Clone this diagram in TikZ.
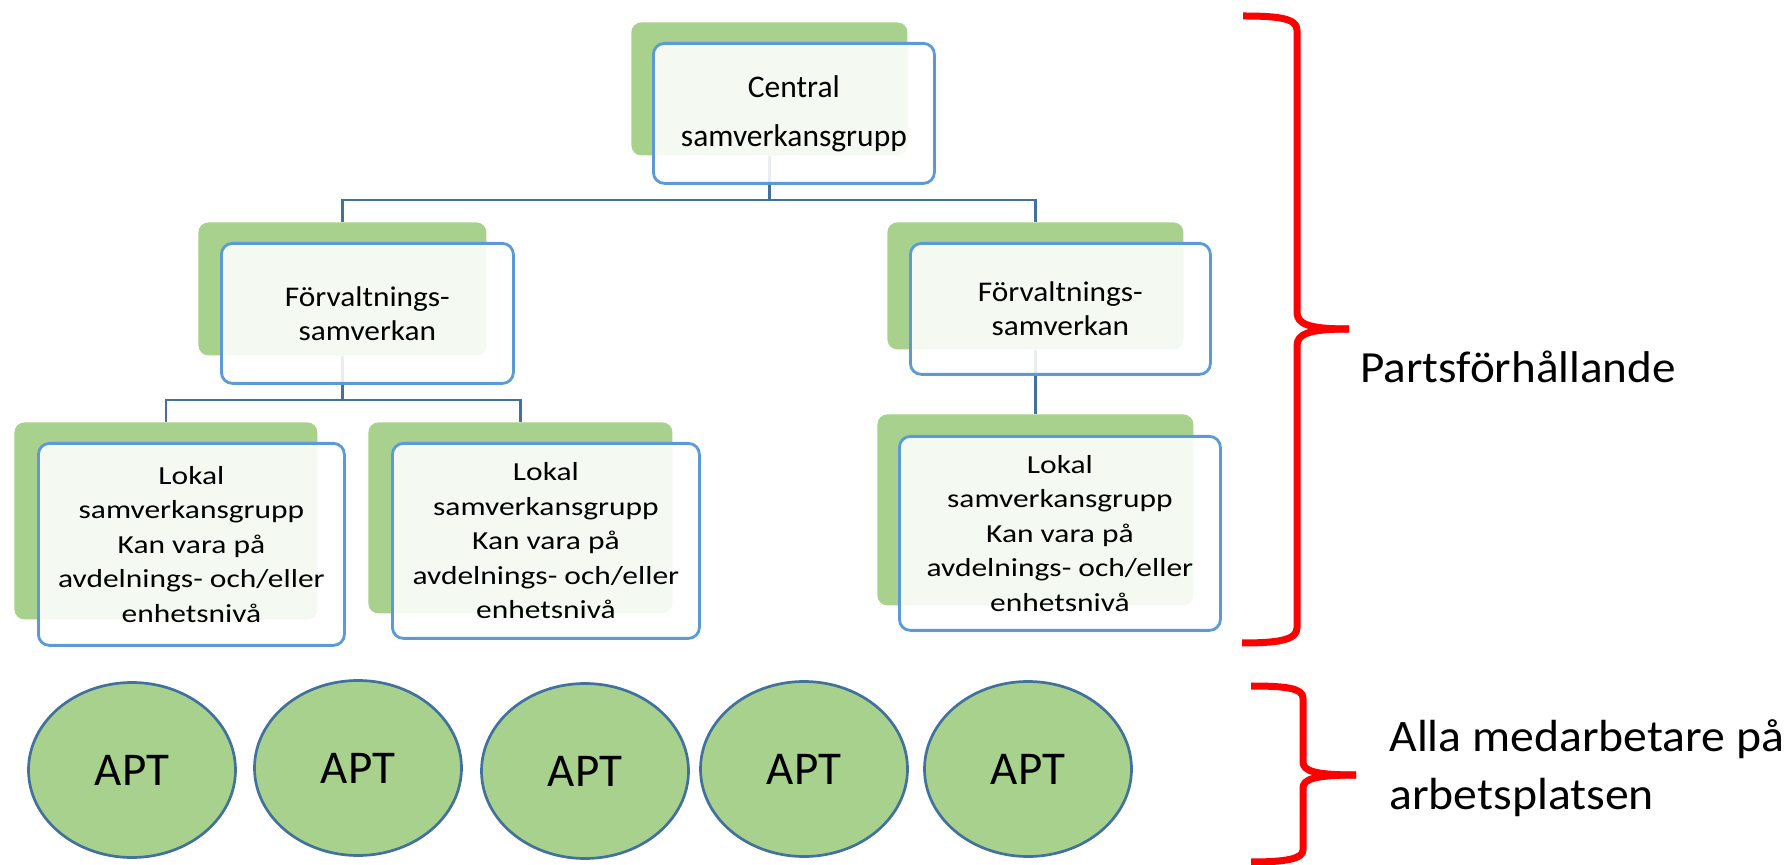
\documentclass[tikz,border=0pt]{standalone}
\usepackage{fontspec}
\setmainfont{Carlito}
\newfontfamily\lokalfont[FakeStretch=1.21]{Carlito}
\newfontfamily\forvfont[FakeStretch=1.1]{Carlito}
\newfontfamily\sidefont[FakeStretch=1.06]{Carlito}
\usetikzlibrary{shapes.geometric}
\definecolor{sagreen}{HTML}{A9D18E}
\definecolor{boxblue}{HTML}{5B9BD5}
\definecolor{linkblue}{HTML}{41719C}
\definecolor{bracered}{HTML}{FF0000}
\begin{document}
\begin{tikzpicture}[x=0.5pt,y=-0.5pt,
  greenbox/.style={rectangle, rounded corners=5pt, fill=sagreen, draw=none, inner sep=0pt, anchor=north west},
  whitebox/.style={rectangle, rounded corners=5.5pt, draw=boxblue, line width=1.4pt, fill=white, fill opacity=0.88, text opacity=1, inner sep=0pt, anchor=north west, align=center},
  centraltext/.style={font=\fontsize{15.75}{24.5}\selectfont},
  forvtext/.style={font=\forvfont\fontsize{14.25}{17}\selectfont},
  lokaltext/.style={font=\lokalfont\fontsize{13}{17.25}\selectfont},
  conn/.style={draw=linkblue, line width=1.3pt},
  apt/.style={ellipse, fill=sagreen, draw=linkblue, line width=1.35pt, inner sep=0pt, minimum width=103.5pt, minimum height=87.5pt, font=\fontsize{23.5}{28}\selectfont},
  bracestyle/.style={draw=bracered, line width=3.5pt, line cap=butt, line join=round},
  sidetext/.style={align=left, inner sep=0pt}
]
\useasboundingbox (0,0) rectangle (1789,865);

% green back boxes
\node[greenbox, minimum width=138pt, minimum height=66.5pt] (g1) at (631,22) {};
\node[greenbox, minimum width=144pt, minimum height=66.5pt] (g2) at (198,222) {};
\node[greenbox, minimum width=148pt, minimum height=63.5pt] (g3) at (887,222) {};
\node[greenbox, minimum width=151.5pt, minimum height=98.5pt] (g4) at (14,422) {};
\node[greenbox, minimum width=152pt, minimum height=95.5pt] (g5) at (368,422) {};
\node[greenbox, minimum width=158pt, minimum height=95.5pt] (g6) at (877,414) {};

% connectors
\coordinate (busA) at (g1.south |- 0,200);
\coordinate (busB) at (g2.south |- 0,400);
\draw[conn] (g1.south) -- (busA);
\draw[conn] (g2.north) |- (busA) -| (g3.north);
\draw[conn] (g2.south) -- (busB);
\draw[conn] (g4.north) |- (busB) -| (g5.north);
\draw[conn] (g3.south) -- (g6.north);

% white front boxes
\node[whitebox, centraltext, minimum width=140.5pt, minimum height=70pt] (w1) at (652,42) {Central\\samverkansgrupp};
\node[whitebox, forvtext, minimum width=146pt, minimum height=70pt] (w2) at (220,242) {Förvaltnings-\\samverkan};
\node[whitebox, forvtext, minimum width=150pt, minimum height=65.5pt] (w3) at (909,242) {Förvaltnings-\\samverkan};
\node[whitebox, lokaltext, minimum width=153pt, minimum height=101pt] (w4) at (37,442) {Lokal\\samverkansgrupp\\Kan vara på\\avdelnings- och/eller\\enhetsnivå};
\node[whitebox, lokaltext, minimum width=153.5pt, minimum height=97.5pt] (w5) at (391,442) {Lokal\\samverkansgrupp\\Kan vara på\\avdelnings- och/eller\\enhetsnivå};
\node[whitebox, lokaltext, minimum width=160.5pt, minimum height=97pt] (w6) at (898,435) {Lokal\\samverkansgrupp\\Kan vara på\\avdelnings- och/eller\\enhetsnivå};

% APT ellipses
\node[apt] (a1) at (132,770) {APT};
\node[apt] (a2) at (358,768) {APT};
\node[apt] (a3) at (585,771) {APT};
\node[apt] (a4) at (804,769) {APT};
\node[apt] (a5) at (1028,769) {APT};

% braces
\draw[bracestyle] (1243,16) .. controls (1277,16) and (1297,18) .. (1297,30)
  -- (1297,312) .. controls (1297,324) and (1308,329) .. (1349,329);
\draw[bracestyle] (1349,329) .. controls (1308,329) and (1297,334) .. (1297,346)
  -- (1297,628) .. controls (1297,640) and (1278,643) .. (1242,643);
\draw[bracestyle] (1251,686) .. controls (1285,686) and (1303,688) .. (1303,698)
  -- (1303,762) .. controls (1303,771) and (1315,775) .. (1356,775);
\draw[bracestyle] (1356,775) .. controls (1315,775) and (1303,779) .. (1303,788)
  -- (1303,850) .. controls (1303,859) and (1285,862) .. (1251,862);

% side labels
\node[sidetext, anchor=base west, font=\sidefont\fontsize{22.25}{29}\selectfont] (parts) at (1360,383) {Partsförhållande};
\node[sidetext, anchor=west, font=\sidefont\fontsize{22.5}{29}\selectfont] (alla) at (1389,768) {Alla medarbetare på\\arbetsplatsen};
\end{tikzpicture}
\end{document}
